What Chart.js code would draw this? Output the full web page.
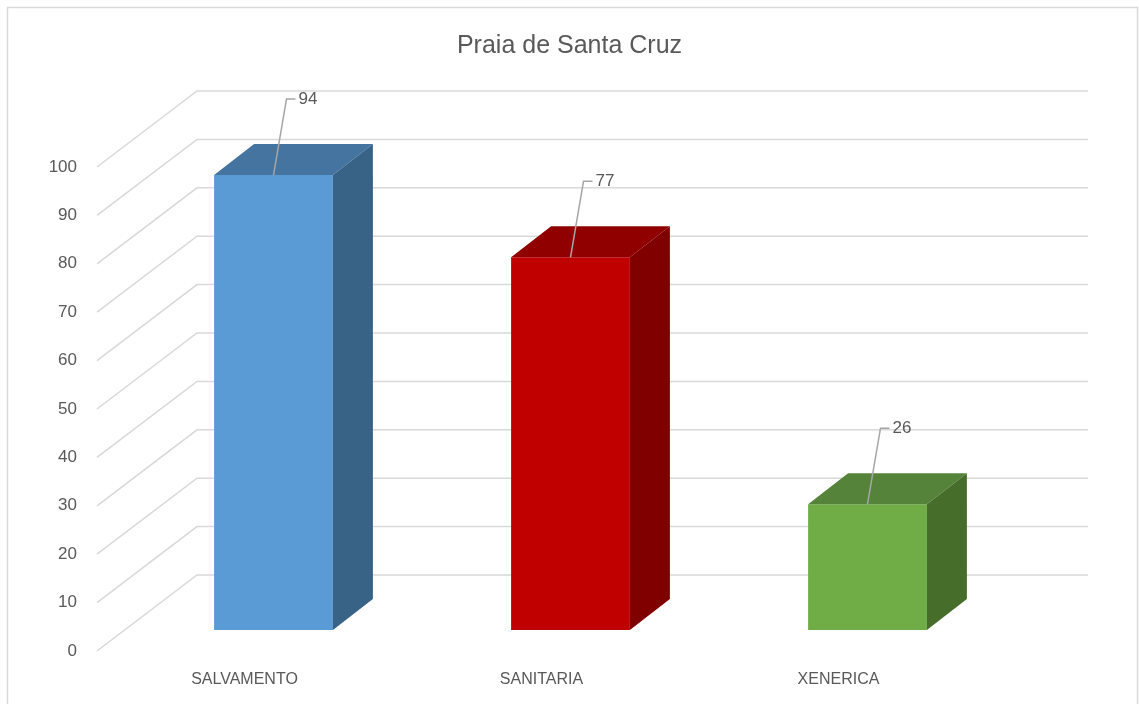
<!DOCTYPE html>
<html><head><meta charset="utf-8">
<script src="https://cdn.jsdelivr.net/npm/chart.js@4.4.0/dist/chart.umd.min.js"></script>
<style>html,body{margin:0;padding:0;background:#fff;}#wrap{width:1139px;height:704px;position:relative;}</style>
</head><body><div id="wrap"><canvas id="c" width="1139" height="704"></canvas></div>
<script>
const chartTitle = 'Praia de Santa Cruz';
const categories = ['SALVAMENTO', 'SANITARIA', 'XENERICA'];
const values = [94, 77, 26];
const frontColors = ['#5B9BD5', '#C00000', '#70AD47'];
const topColors = ['#44749F', '#900000', '#56833A'];
const sideColors = ['#386286', '#800000', '#476D2B'];
const yTickValues = [0, 10, 20, 30, 40, 50, 60, 70, 80, 90, 100];

const FONT = "'Liberation Sans', Arial, sans-serif";
const TEXT = '#595959';
const GRID = '#d9d9d9';
const FRONT = {dx: -28, dy: 21};   // front floor edge relative to bar plane
const BACK = {dx: 72, dy: -55};    // back wall relative to bar plane
const DEPTH = {dx: 40, dy: -31};   // bar depth
const LEADER = {dx: 13, dy: -76, hx: 9};

const threeD = {
  id: 'threeD',
  beforeDraw(chart) {
    const ctx = chart.ctx;
    ctx.save();
    ctx.fillStyle = '#fff';
    ctx.fillRect(0, 0, chart.width, chart.height);
    ctx.strokeStyle = GRID;
    ctx.lineWidth = 1.5;
    ctx.strokeRect(7.5, 7.5, 1130, 720);
    ctx.restore();
  },
  beforeDatasetsDraw(chart) {
    const {ctx, chartArea: a, scales: {y}} = chart;
    ctx.save();
    ctx.strokeStyle = GRID;
    ctx.lineWidth = 1.5;
    yTickValues.forEach(v => {
      const p = y.getPixelForValue(v);
      ctx.beginPath();
      ctx.moveTo(a.left + FRONT.dx, p + FRONT.dy);
      ctx.lineTo(a.left + BACK.dx, p + BACK.dy);
      ctx.lineTo(a.right + BACK.dx, p + BACK.dy);
      ctx.stroke();
    });
    ctx.restore();
  },
  afterDatasetsDraw(chart) {
    const ctx = chart.ctx;
    const meta = chart.getDatasetMeta(0);
    ctx.save();
    meta.data.forEach((bar, i) => {
      const l = bar.x - bar.width / 2, r = bar.x + bar.width / 2, t = bar.y, b = bar.base;
      ctx.fillStyle = topColors[i];
      ctx.beginPath();
      ctx.moveTo(l, t); ctx.lineTo(l + DEPTH.dx, t + DEPTH.dy);
      ctx.lineTo(r + DEPTH.dx, t + DEPTH.dy); ctx.lineTo(r, t);
      ctx.closePath(); ctx.fill();
      ctx.fillStyle = sideColors[i];
      ctx.beginPath();
      ctx.moveTo(r, t); ctx.lineTo(r + DEPTH.dx, t + DEPTH.dy);
      ctx.lineTo(r + DEPTH.dx, b + DEPTH.dy); ctx.lineTo(r, b);
      ctx.closePath(); ctx.fill();
    });
    meta.data.forEach((bar, i) => {
      const x0 = bar.x, y0 = bar.y;
      const x1 = x0 + LEADER.dx, y1 = y0 + LEADER.dy;
      ctx.strokeStyle = '#A6A6A6';
      ctx.lineWidth = 1.5;
      ctx.beginPath();
      ctx.moveTo(x0, y0); ctx.lineTo(x1, y1); ctx.lineTo(x1 + LEADER.hx, y1);
      ctx.stroke();
      ctx.fillStyle = TEXT;
      ctx.font = '17px ' + FONT;
      ctx.textAlign = 'left';
      ctx.textBaseline = 'middle';
      ctx.fillText(String(values[i]), x1 + LEADER.hx + 3, y1);
    });
    ctx.restore();
  }
};

new Chart(document.getElementById('c'), {
  type: 'bar',
  data: {
    labels: categories,
    datasets: [{
      data: values,
      backgroundColor: frontColors,
      borderWidth: 0,
      barPercentage: 0.4,
      categoryPercentage: 1.0
    }]
  },
  options: {
    responsive: false,
    animation: false,
    events: [],
    layout: {padding: {left: 0, right: 0, top: 0, bottom: 0}},
    plugins: {
      legend: {display: false},
      tooltip: {enabled: false},
      title: {
        display: true,
        text: chartTitle,
        color: TEXT,
        font: {family: FONT, size: 25, weight: 'normal'},
        padding: {top: 31, bottom: 85}
      }
    },
    scales: {
      x: {
        grid: {display: false, drawTicks: false},
        border: {display: false},
        ticks: {color: TEXT, font: {family: FONT, size: 16}, padding: 40, labelOffset: -29, maxRotation: 0},
        afterFit(s) { s.height = 74; }
      },
      y: {
        min: 0, max: 100,
        grid: {display: false, drawTicks: false},
        border: {display: false},
        ticks: {color: TEXT, font: {family: FONT, size: 17}, stepSize: 10, padding: 48, labelOffset: 21},
        afterFit(s) { s.width = 125; }
      },
      yRight: {
        position: 'right',
        min: 0, max: 100,
        grid: {display: false, drawTicks: false},
        border: {display: false},
        ticks: {display: false},
        afterFit(s) { s.width = 123; }
      }
    }
  },
  plugins: [threeD]
});
</script></body></html>
